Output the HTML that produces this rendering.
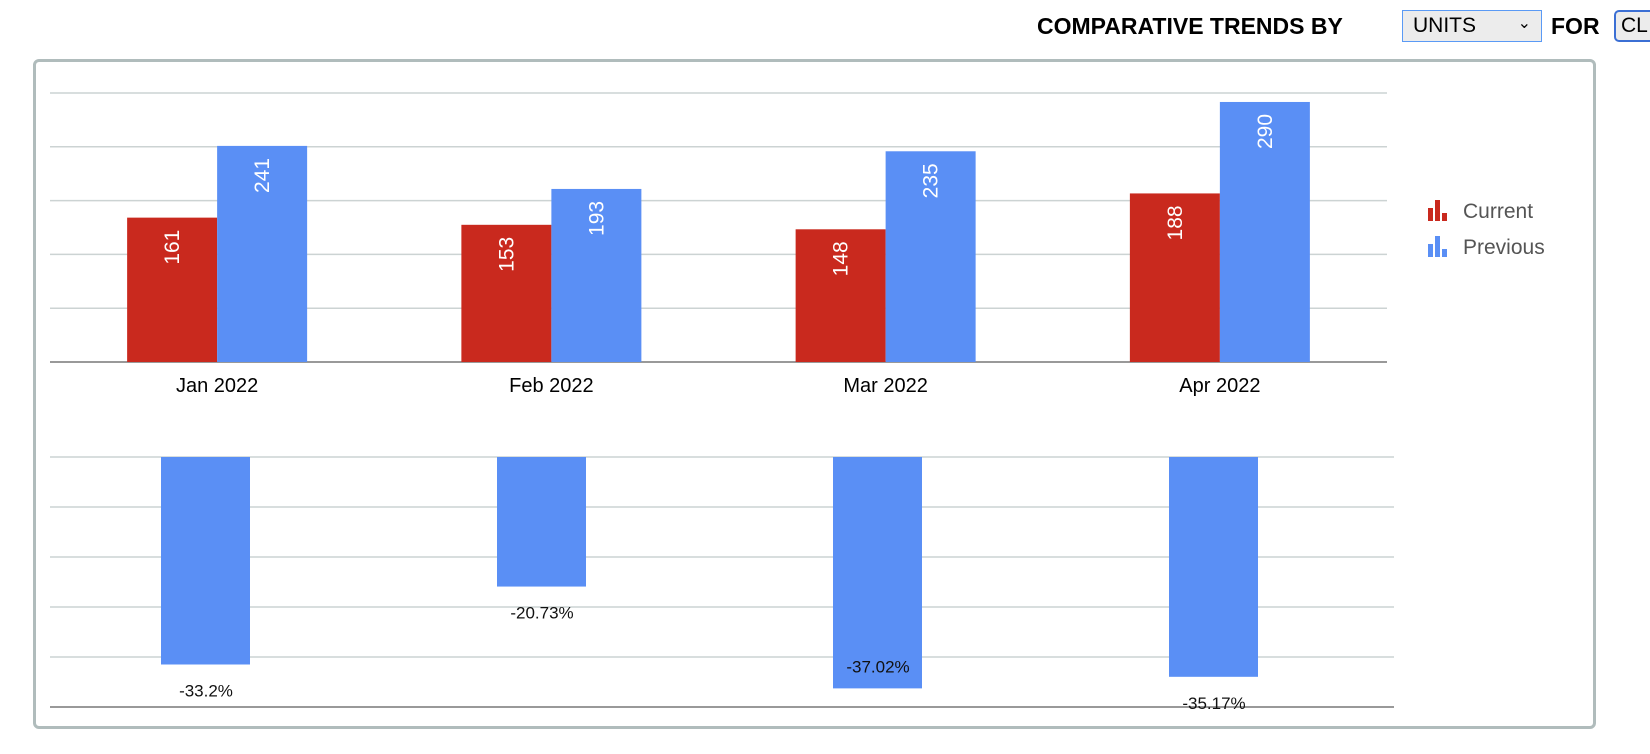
<!DOCTYPE html>
<html><head><meta charset="utf-8"><style>
body{margin:0;width:1650px;height:754px;background:#fff;font-family:"Liberation Sans",Arial,sans-serif;overflow:hidden;position:relative}
.hdr{position:absolute;top:10px;font-weight:bold;font-size:23px;color:#000;line-height:32px}
.sel{position:absolute;top:10px;left:1402px;width:138px;height:30px;border:1px solid #5a9af5;background:#ececec;font-size:21px;line-height:30px;box-sizing:content-box}
.frame{position:absolute;left:33px;top:59px;width:1563px;height:670px;border:3px solid #b0bcbc;border-radius:6px;box-sizing:border-box}
svg{position:absolute;left:0;top:0}
</style></head><body>
<div class="hdr" style="left:1037px">COMPARATIVE TRENDS BY</div>
<div class="sel"><span style="margin-left:10px">UNITS</span><span style="position:absolute;right:10px;top:-2px;font-size:16px">&#8964;</span></div>
<div class="hdr" style="left:1551px">FOR</div>
<div style="position:absolute;left:1614px;top:10px;width:50px;height:28px;border:2px solid #3b6fd4;border-radius:5px;background:#ececec;font-size:21px;line-height:28px;padding-left:5px">CL</div>
<div class="frame"></div>
<svg id="chart" width="1650" height="754"></svg>
<script>
const categories=["Jan 2022","Feb 2022","Mar 2022","Apr 2022"];
const currentVals=[161,153,148,188];
const previousVals=[241,193,235,290];
const changeVals=[-33.2,-20.73,-37.02,-35.17];
const changeLabels=["-33.2%","-20.73%","-37.02%","-35.17%"];
const upperTicks=[0,60,120,180,240,300];
const lowerTicks=[0,-8,-16,-24,-32,-40];
const NS="http://www.w3.org/2000/svg";
const svg=document.getElementById('chart');
function mk(t,a,p){const e=document.createElementNS(NS,t);for(const k in a)e.setAttribute(k,a[k]);(p||svg).appendChild(e);return e;}
const L=50,R=1387,catW=(R-L)/categories.length;
const yU=v=>362-v*(269/300);
const yL=v=>457+(-v)*(250/40);
const xC=i=>L+catW*(i+0.5);
// upper grid
upperTicks.forEach(t=>{const g=mk('line',{x1:L,x2:R,y1:yU(t),y2:yU(t),stroke:t===0?'#999':'#ccd3d3','stroke-width':t===0?2:1.5});
});
categories.forEach((c,i)=>{
 const cx=xC(i);
 const r=mk('rect',{x:cx-90,y:yU(currentVals[i]),width:90,height:yU(0)-yU(currentVals[i]),fill:'#c9291e'});
 
 const b=mk('rect',{x:cx,y:yU(previousVals[i]),width:90,height:yU(0)-yU(previousVals[i]),fill:'#5a8ff5'});
 
 [[currentVals[i],cx-45],[previousVals[i],cx+45]].forEach(([v,x])=>{
  const ty=yU(v)+12;
  const t=mk('text',{x:x+7,y:ty,fill:'#fff','font-size':21,'text-anchor':'end',transform:`rotate(-90 ${x+7} ${ty})`});
  t.textContent=v;
 });
 const xl=mk('text',{x:cx,y:392,'font-size':20,'text-anchor':'middle',fill:'#000'});
 xl.textContent=c;
});
// legend
[['Current','#c9291e',210],['Previous','#5a8ff5',246]].forEach(([n,col,y])=>{
 const g=mk('g',{});
 mk('rect',{x:1428,y:y-2,width:5,height:13,fill:col},g);
 mk('rect',{x:1435,y:y-10,width:5,height:21,fill:col},g);
 mk('rect',{x:1442,y:y+3,width:5,height:8,fill:col},g);
 const t=mk('text',{x:1463,y:y+8,'font-size':21,fill:'#555'},g);t.textContent=n;
});
// lower chart
const LR=1394;
lowerTicks.forEach(t=>{const g=mk('line',{x1:L,x2:LR,y1:yL(t),y2:yL(t),stroke:t===-40?'#999':'#ccd3d3','stroke-width':t===-40?2:1.5});
});
const lcw=(LR-L)/categories.length;
changeVals.forEach((v,i)=>{
 const cx=L+lcw*(i+0.5)-12+i*0;
 const b=mk('rect',{x:cx-45,y:yL(0),width:89,height:yL(v)-yL(0),fill:'#5a8ff5'});
 
 let ly=yL(v)+32;if(ly>yL(-40)+2)ly=yL(v)-16;
 const t=mk('text',{x:cx,y:ly,'font-size':17,'text-anchor':'middle',fill:'#111'});
 t.textContent=changeLabels[i];
});
</script>
</body></html>
